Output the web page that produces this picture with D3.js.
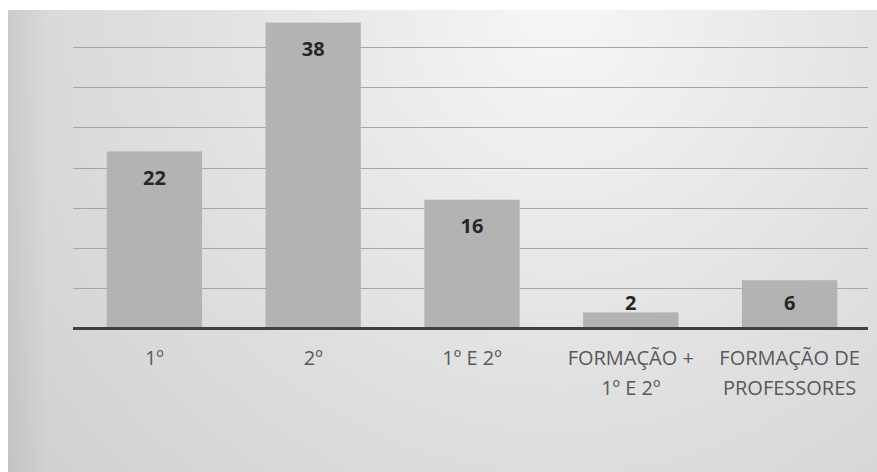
<!DOCTYPE html>
<html>
<head>
<meta charset="utf-8">
<script src="https://cdn.jsdelivr.net/npm/d3@7"></script>
<style>
  html, body { margin: 0; padding: 0; background: #ffffff; }
  svg { display: block; }
</style>
</head>
<body>
<svg id="chart" width="877" height="472"></svg>
<script>
const categories = ["1º", "2º", "1º E 2º", "FORMAÇÃO +\n1º E 2º", "FORMAÇÃO DE\nPROFESSORES"];
const values = [22, 38, 16, 2, 6];
const gridTicks = [5, 10, 15, 20, 25, 30, 35];

const W = 877, H = 472;
const svg = d3.select("#chart");
const margin = { left: 75, right: 8, top: 6.5, baseline: 328.5 };

const defs = svg.append("defs");
const rg = defs.append("radialGradient")
  .attr("id", "bg").attr("gradientUnits", "userSpaceOnUse")
  .attr("cx", 560).attr("cy", 20).attr("r", 760);
rg.append("stop").attr("offset", 0).attr("stop-color", "#f6f6f6");
rg.append("stop").attr("offset", 0.45).attr("stop-color", "#e2e2e2");
rg.append("stop").attr("offset", 1).attr("stop-color", "#cdcdcd");

const lg = defs.append("linearGradient").attr("id", "leftShade")
  .attr("x1", 0).attr("x2", 1).attr("y1", 0).attr("y2", 0);
lg.append("stop").attr("offset", 0).attr("stop-color", "#000").attr("stop-opacity", 0.06);
lg.append("stop").attr("offset", 1).attr("stop-color", "#000").attr("stop-opacity", 0);

svg.append("rect").attr("x", 8).attr("y", 10).attr("width", W - 8).attr("height", H - 10)
  .attr("fill", "url(#bg)");
svg.append("rect").attr("x", 8).attr("y", 10).attr("width", 40).attr("height", H - 10)
  .attr("fill", "url(#leftShade)");

const x = d3.scaleBand().domain(categories)
  .range([margin.left, W - margin.right]).paddingInner(0.40).paddingOuter(0.20);
const y = d3.scaleLinear().domain([0, 40]).range([margin.baseline, margin.top]);

// gridlines
svg.append("g").selectAll("line").data(gridTicks).join("line")
  .attr("x1", 73).attr("x2", 868)
  .attr("y1", d => Math.round(y(d)) + 0.5).attr("y2", d => Math.round(y(d)) + 0.5)
  .attr("stroke", "#a6a6a6").attr("stroke-width", 1.2);

// bars
svg.append("g").selectAll("rect").data(values).join("rect")
  .attr("x", (d, i) => x(categories[i]))
  .attr("width", x.bandwidth())
  .attr("y", d => y(d))
  .attr("height", d => y(0) - y(d))
  .attr("fill", "#b3b3b3");

// baseline axis
const xAxis = d3.axisBottom(x).tickSize(0).tickFormat("");
const ax = svg.append("g").attr("transform", `translate(0,${y(0)})`).call(xAxis);
ax.select(".domain").attr("d", "M73,0H868").attr("stroke", "#404040").attr("stroke-width", 3);

// value labels
svg.append("g").selectAll("text").data(values).join("text")
  .attr("x", (d, i) => x(categories[i]) + x.bandwidth() / 2)
  .attr("y", d => Math.min(y(d) + 26, y(0) - 26))
  .attr("dy", "0.36em")
  .attr("text-anchor", "middle")
  .attr("font-family", "'Open Sans', sans-serif")
  .attr("font-weight", "bold")
  .attr("font-size", 20)
  .attr("fill", "#262626")
  .text(d => d);

// category labels
const cl = svg.append("g").selectAll("text").data(categories).join("text")
  .attr("text-anchor", "middle")
  .attr("font-family", "'Open Sans', sans-serif")
  .attr("font-size", 20)
  .attr("fill", "#595959");
cl.each(function(d) {
  const lines = d.split("\n");
  const t = d3.select(this);
  lines.forEach((ln, j) => {
    t.append("tspan").attr("x", x(d) + x.bandwidth() / 2)
      .attr("y", 358 + j * 30).attr("dy", "0.36em").text(ln);
  });
});
</script>
</body>
</html>
